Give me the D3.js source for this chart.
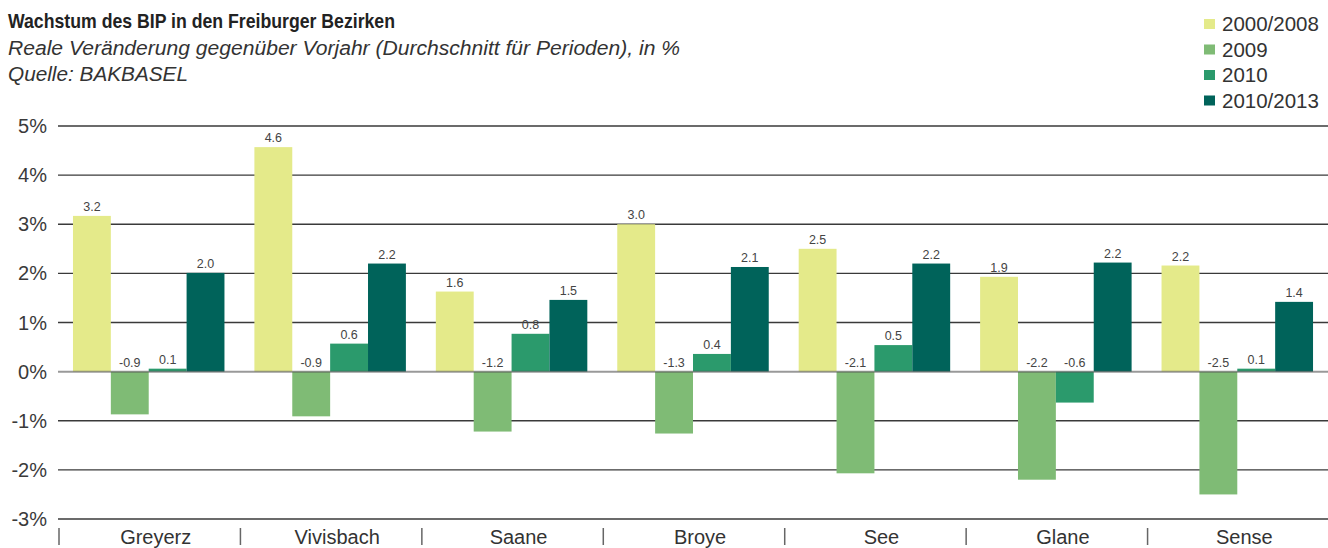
<!DOCTYPE html>
<html>
<head>
<meta charset="utf-8">
<script src="https://cdn.jsdelivr.net/npm/d3@7"></script>
<style>
  body { margin: 0; background: #fff; }
  svg { display: block; font-family: "Liberation Sans", Arial, sans-serif; }
</style>
</head>
<body>
<svg id="chart" width="1328" height="548"></svg>
<script>
// Data
const districts = ['Greyerz', 'Vivisbach', 'Saane', 'Broye', 'See', 'Glane', 'Sense'];
const seriesNames = ['2000/2008', '2009', '2010', '2010/2013'];
const colors = ['#e4ea8a', '#7fbb75', '#2b9a6c', '#00635a'];
const v2000_2008 = [3.17, 4.57, 1.63, 3.0, 2.5, 1.93, 2.16];
const v2009 = [-0.87, -0.91, -1.22, -1.26, -2.07, -2.2, -2.5];
const v2010 = [0.06, 0.57, 0.77, 0.36, 0.54, -0.63, 0.06];
const v2010_2013 = [2.01, 2.2, 1.46, 2.13, 2.2, 2.22, 1.42];
const yTicks = [5, 4, 3, 2, 1, 0, -1, -2, -3];

const series = [v2000_2008, v2009, v2010, v2010_2013];
const rows = [];
districts.forEach((d, i) => {
  series.forEach((s, k) => rows.push({ district: d, key: seriesNames[k], k, value: s[i] }));
});

const svg = d3.select('#chart');
const margin = { left: 58, right: 0, top: 126, bottom: 29 };
const W = 1328, H = 548;

const y = d3.scaleLinear().domain([-3, 5]).range([H - margin.bottom, margin.top]);
const x0 = d3.scaleBand().domain(districts).range([margin.left, W - margin.right]).paddingInner(0.165).paddingOuter(0.0825);
const x1 = d3.scaleBand().domain(seriesNames).range([0, x0.bandwidth()]);
const fmt = v => (Math.round(v * 10) / 10).toFixed(1); // plain hyphen minus like the original

// Title block
const head = svg.append('g').attr('fill', '#222');
head.append('text').attr('x', 8).attr('y', 28).attr('font-size', 20.5).attr('font-weight', 'bold')
  .attr('textLength', 387).attr('lengthAdjust', 'spacingAndGlyphs')
  .text('Wachstum des BIP in den Freiburger Bezirken');
head.append('text').attr('x', 8).attr('y', 55).attr('font-size', 19.5).attr('font-style', 'italic').attr('fill', '#333')
  .attr('textLength', 672).attr('lengthAdjust', 'spacingAndGlyphs')
  .text('Reale Veränderung gegenüber Vorjahr (Durchschnitt für Perioden), in %');
head.append('text').attr('x', 8).attr('y', 81).attr('font-size', 19.5).attr('font-style', 'italic').attr('fill', '#333')
  .attr('textLength', 180).attr('lengthAdjust', 'spacingAndGlyphs')
  .text('Quelle: BAKBASEL');

// Legend
const legend = svg.append('g').attr('transform', 'translate(1204,19)');
seriesNames.forEach((name, i) => {
  const g = legend.append('g').attr('transform', `translate(0,${i * 25.5})`);
  g.append('rect').attr('width', 11).attr('height', 10).attr('fill', colors[i]);
  g.append('text').attr('x', 18).attr('y', 5).attr('dy', '0.36em').attr('font-size', 20.5).attr('fill', '#333').text(name);
});

// Grid + y labels
const grid = svg.append('g');
grid.selectAll('line').data(yTicks.filter(t => t !== 0)).join('line')
  .attr('x1', margin.left).attr('x2', W)
  .attr('y1', d => y(d)).attr('y2', d => y(d))
  .attr('stroke', '#3a3a3a').attr('stroke-width', 1.3);
svg.append('g').selectAll('text').data(yTicks).join('text')
  .attr('x', 47).attr('y', d => y(d)).attr('dy', '0.35em')
  .attr('text-anchor', 'end').attr('font-size', 20).attr('fill', '#3a3a3a')
  .text(d => d + '%');

// Bars
const groups = svg.append('g').selectAll('g').data(districts).join('g')
  .attr('transform', d => `translate(${x0(d)},0)`);
groups.selectAll('rect').data(d => rows.filter(r => r.district === d)).join('rect')
  .attr('x', d => x1(d.key))
  .attr('width', x1.bandwidth())
  .attr('y', d => y(Math.max(0, d.value)))
  .attr('height', d => Math.abs(y(d.value) - y(0)))
  .attr('fill', d => colors[d.k]);

// Zero line on top of bars
svg.append('line').attr('x1', margin.left).attr('x2', W).attr('y1', y(0)).attr('y2', y(0))
  .attr('stroke', '#555').attr('stroke-opacity', 0.6).attr('stroke-width', 2);

// Value labels
groups.selectAll('text').data(d => rows.filter(r => r.district === d)).join('text')
  .attr('x', d => x1(d.key) + x1.bandwidth() / 2)
  .attr('y', d => y(Math.max(0, d.value)) - 5)
  .attr('text-anchor', 'middle').attr('font-size', 12.5).attr('fill', '#444')
  .text(d => fmt(d.value));

// Category axis: separator ticks and labels
const step = x0.step();
svg.append('g').selectAll('line').data(districts).join('line')
  .attr('x1', d => x0(d) - step * 0.0825 + 1).attr('x2', d => x0(d) - step * 0.0825 + 1)
  .attr('y1', 528).attr('y2', 545)
  .attr('stroke', '#666').attr('stroke-width', 1.5);
svg.append('g').selectAll('text').data(districts).join('text')
  .attr('x', d => x0(d) + x0.bandwidth() / 2 + 7).attr('y', 544)
  .attr('text-anchor', 'middle').attr('font-size', 20).attr('fill', '#333')
  .text(d => d);
</script>
</body>
</html>
